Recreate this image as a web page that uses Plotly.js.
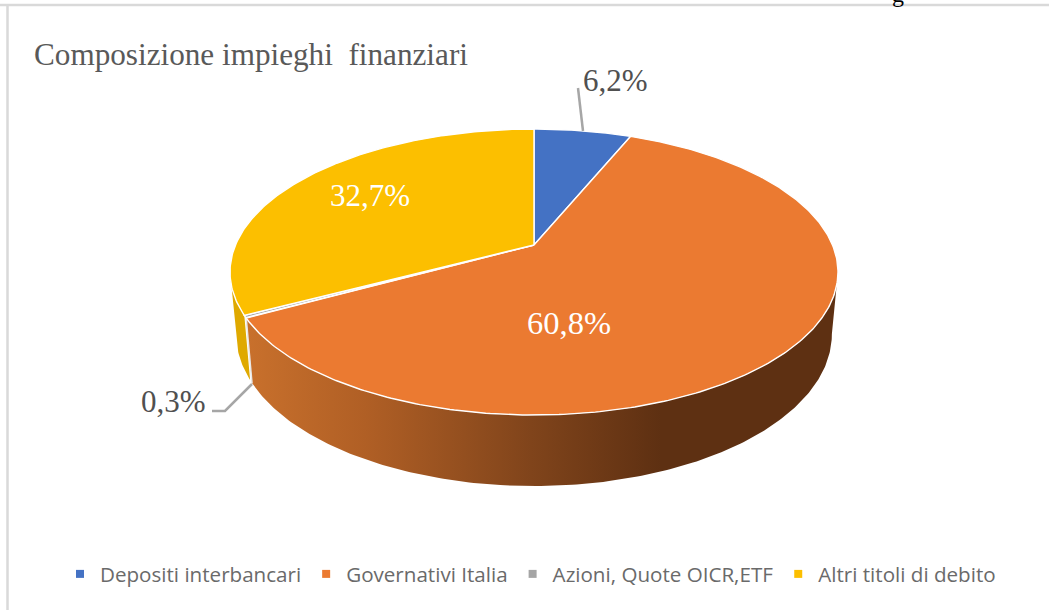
<!DOCTYPE html>
<html><head><meta charset="utf-8">
<script src="https://cdn.plot.ly/plotly-3.0.1.min.js"></script>
<style>html,body{margin:0;padding:0;background:#fff}#c{width:1049px;height:610px}</style>
</head><body><div id="c"></div>
<script>
const categories = ["Depositi interbancari","Governativi Italia","Azioni, Quote OICR,ETF","Altri titoli di debito"];
const shares = [6.2,60.8,0.3,32.7];
const percentLabels = ["6,2%","60,8%","0,3%","32,7%"];
const sliceColors = ["#4472C4","#EB7A31","#A5A5A5","#FCBF00"];
const titleText = "Composizione impieghi  finanziari";

// perspective projection of the tilted pie disc onto the page
const view = {cx:534, cy:245, a:298.5, b:137.9, k:0.189};
const base = {cy:305.4, a:292.5, b:146.5};
function topRing(t){const u=Math.sin(t),v=Math.cos(t),w=1+view.k*v;
  return [view.cx+view.a*u/w, view.cy-view.b*v/w];}
function lowRing(t){const u=Math.sin(t),v=Math.cos(t),w=1+view.k*v;
  return [view.cx+base.a*u/w, base.cy-base.b*v/w];}
function arc(f,t0,t1){const n=Math.max(6,Math.round(Math.abs(t1-t0)*80)),p=[];
  for(let i=0;i<=n;i++)p.push(f(t0+(t1-t0)*i/n));return p;}
const total=shares.reduce((a,b)=>a+b,0);
let acc=0;
const bounds=shares.map(s=>{const a=acc/total*2*Math.PI;acc+=s;return [a,acc/total*2*Math.PI];});
const rightTangent=Math.PI-Math.asin(Math.sqrt(1-view.k*view.k));
const leftTangent=Math.PI+Math.asin(Math.sqrt(1-view.k*view.k));

function poly(pts,extra){
  return Object.assign({type:"scatter",mode:"lines",x:pts.map(p=>p[0]),y:pts.map(p=>p[1]),
    fill:"toself",showlegend:false,hoverinfo:"skip"},extra);
}
const traces=[];
// side walls
const yb=bounds[3], ob=bounds[1];
traces.push(poly(arc(topRing,yb[0],leftTangent).concat(arc(lowRing,leftTangent,yb[0])),
  {fillcolor:"#DFA900",line:{width:0,color:"#DFA900"}}));
traces.push(poly(arc(topRing,rightTangent,ob[1]).concat(arc(lowRing,ob[1],rightTangent)),
  {fillcolor:"#8A4A1C",line:{width:0,color:"#8A4A1C"},
   fillgradient:{type:"horizontal",start:248,stop:838,
     colorscale:[[0,"#C8702C"],[0.2,"#B05F25"],[0.48,"#80441B"],[0.7,"#5E3012"],[1,"#5E3012"]]}}));
// corner edge
const corner=[topRing(ob[1]),lowRing(ob[1])];
traces.push({type:"scatter",mode:"lines",x:corner.map(p=>p[0]),y:corner.map(p=>p[1]),
  line:{color:"#E8E8E8",width:1.5},showlegend:false,hoverinfo:"skip"});
// top faces
shares.forEach((s,i)=>{
  const pts=[[view.cx,view.cy]].concat(arc(topRing,bounds[i][0],bounds[i][1]));
  pts.push([view.cx,view.cy]);
  traces.push(poly(pts,{fillcolor:sliceColors[i],line:{color:"#FFFFFF",width:1.4},name:categories[i]}));
});
// legend entries
categories.forEach((c,i)=>traces.push({type:"scatter",mode:"markers",x:[null],y:[null],name:c,
  marker:{symbol:"square",size:8,color:sliceColors[i]},showlegend:true,hoverinfo:"skip"}));

const serif="'Liberation Serif','Times New Roman',serif";
const labelPositions=[[615,80],[569,323],[173,401],[370,195]];
const labelColors=["#505050","#FFFFFF","#505050","#FFFFFF"];
const labelSizes=[31,32.5,31,31];
const annotations=percentLabels.map((t,i)=>({xref:"x",yref:"y",x:labelPositions[i][0],y:labelPositions[i][1],
  text:t,showarrow:false,xanchor:"center",yanchor:"middle",font:{family:serif,size:labelSizes[i],color:labelColors[i]}}));
annotations.push({xref:"paper",yref:"paper",x:0.8565,y:1.0,yshift:21,xanchor:"center",yanchor:"top",showarrow:false,
  text:"g",font:{family:serif,size:24,color:"#000"}});

const layout={
  width:1049,height:610,margin:{l:0,r:0,t:0,b:0},paper_bgcolor:"#fff",plot_bgcolor:"#fff",
  xaxis:{range:[0,1049],visible:false,fixedrange:true},
  yaxis:{range:[610,0],visible:false,fixedrange:true},
  title:{text:titleText,x:34/1049,xanchor:"left",xref:"paper",y:1-54/610,yanchor:"middle",yref:"paper",
    font:{family:serif,size:31.2,color:"#595959"}},
  showlegend:true,
  legend:{orientation:"h",x:60/1049,xanchor:"left",y:1-574/610,yanchor:"middle",
    font:{family:"'Open Sans',sans-serif",size:20.6,color:"#6A6A6A"},bgcolor:"rgba(0,0,0,0)",itemclick:false,itemdoubleclick:false},
  annotations:annotations,
  shapes:[
    {type:"line",xref:"paper",yref:"paper",x0:0,x1:1,y0:1-5/610,y1:1-5/610,line:{color:"#D9D9D9",width:2.5}},
    {type:"line",xref:"paper",yref:"paper",x0:7.5/1049,x1:7.5/1049,y0:1-5/610,y1:0,line:{color:"#D9D9D9",width:2.5}},
    {type:"path",xref:"x",yref:"y",path:"M 578 88 L 583 131",line:{color:"#A6A6A6",width:2.5}},
    {type:"path",xref:"x",yref:"y",path:"M 212 411 L 225 411 L 252 384",line:{color:"#A6A6A6",width:2.5}}
  ]
};
Plotly.newPlot("c",traces,layout,{displayModeBar:false});
</script></body></html>
